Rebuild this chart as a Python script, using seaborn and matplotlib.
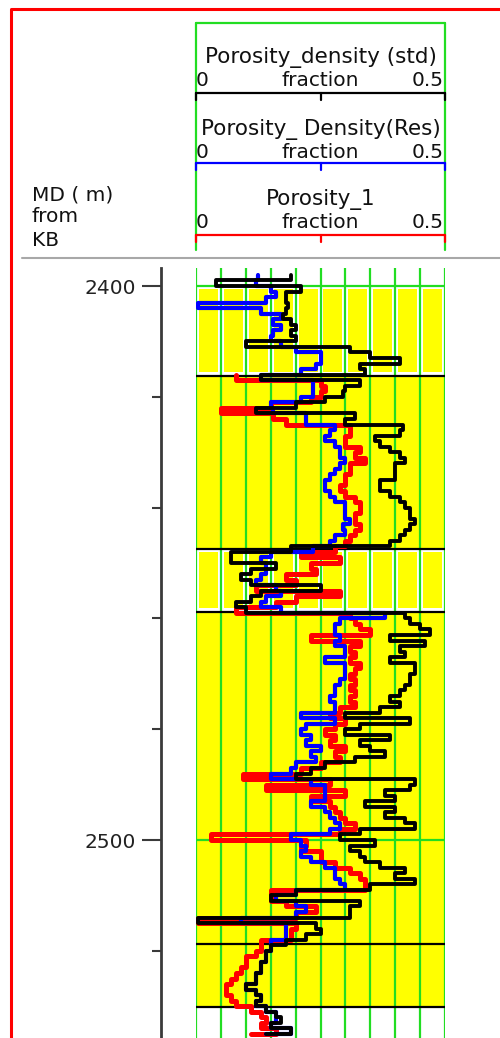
import numpy as np
import pandas as pd
import matplotlib
matplotlib.use("Agg")
import matplotlib.pyplot as plt
from matplotlib.lines import Line2D
import seaborn as sns

sns.set_theme(style="white")
plt.rcParams["font.family"] = ["DejaVu Sans"]

# ---------------------------------------------------------------- data
depth = np.arange(2398, 2536)  # measured depth, m (1 m samples)

phi_std = [
    0.19, 0.04, 0.21, 0.18, 0.18, 0.185, 0.18, 0.175, 0.19, 0.20,
    0.19, 0.20, 0.10, 0.31, 0.35, 0.41, 0.33, 0.34, 0.13, 0.33,
    0.30, 0.295, 0.26, 0.20, 0.12, 0.32, 0.30, 0.415, 0.41, 0.36,
    0.37, 0.39, 0.41, 0.42, 0.40, 0.40, 0.40, 0.37, 0.37, 0.39,
    0.41, 0.42, 0.43, 0.43, 0.44, 0.43, 0.42, 0.41, 0.39, 0.19,
    0.07, 0.07, 0.16, 0.11, 0.09, 0.11, 0.25, 0.13, 0.11, 0.08,
    0.10, 0.42, 0.43, 0.45, 0.47, 0.39, 0.46, 0.41, 0.42, 0.39,
    0.44, 0.44, 0.43, 0.43, 0.42, 0.41, 0.39, 0.41, 0.37, 0.30,
    0.43, 0.33, 0.30, 0.39, 0.33, 0.35, 0.38, 0.32, 0.26, 0.23,
    0.20, 0.44, 0.43, 0.38, 0.40, 0.34, 0.40, 0.38, 0.42, 0.44,
    0.33, 0.29, 0.36, 0.31, 0.33, 0.34, 0.37, 0.42, 0.40, 0.44,
    0.35, 0.20, 0.15, 0.33, 0.31, 0.31, 0.005, 0.24, 0.25, 0.22,
    0.18, 0.15, 0.14, 0.14, 0.13, 0.13, 0.12, 0.12, 0.10, 0.12,
    0.13, 0.12, 0.14, 0.16, 0.17, 0.15, 0.19, 0.14,
]

phi_res = [
    0.125, 0.12, 0.15, 0.16, 0.14, 0.005, 0.13, 0.17, 0.155, 0.17,
    0.155, 0.15, 0.17, 0.20, 0.25, 0.25, 0.24, 0.21, 0.13, 0.235,
    0.235, 0.235, 0.21, 0.15, 0.155, 0.22, 0.22, 0.28, 0.27, 0.26,
    0.28, 0.29, 0.29, 0.30, 0.29, 0.28, 0.27, 0.26, 0.26, 0.27,
    0.28, 0.30, 0.30, 0.30, 0.31, 0.295, 0.30, 0.28, 0.27, 0.235,
    0.15, 0.13, 0.14, 0.14, 0.13, 0.12, 0.16, 0.17, 0.14, 0.13,
    0.17, 0.38, 0.29, 0.28, 0.28, 0.29, 0.28, 0.30, 0.30, 0.26,
    0.30, 0.30, 0.30, 0.29, 0.28, 0.28, 0.27, 0.28, 0.28, 0.21,
    0.28, 0.22, 0.21, 0.23, 0.22, 0.25, 0.23, 0.24, 0.20, 0.19,
    0.15, 0.23, 0.26, 0.26, 0.26, 0.23, 0.26, 0.27, 0.28, 0.29,
    0.27, 0.19, 0.21, 0.22, 0.21, 0.23, 0.26, 0.28, 0.28, 0.29,
    0.30, 0.20, 0.16, 0.20, 0.22, 0.20, 0.09, 0.18, 0.18, 0.18,
    0.15, 0.15, 0.14, 0.14, 0.13, 0.13, 0.12, 0.12, 0.10, 0.12,
    0.13, 0.12, 0.14, 0.16, 0.16, 0.15, 0.19, 0.14,
]

phi_1 = [np.nan] * 18 + [
    0.08, 0.25, 0.26, 0.25, 0.23, 0.15, 0.05, 0.155, 0.18, 0.31,
    0.31, 0.30, 0.30, 0.33, 0.32, 0.34, 0.31, 0.31, 0.30, 0.30,
    0.29, 0.30, 0.32, 0.33, 0.33, 0.32, 0.32, 0.33, 0.32, 0.31,
    0.30, 0.28, 0.21, 0.29, 0.23, 0.24, 0.18, 0.20, 0.12, 0.29,
    0.20, 0.16, 0.08, 0.31, 0.32, 0.33, 0.35, 0.23, 0.33, 0.31,
    0.32, 0.31, 0.33, 0.32, 0.31, 0.32, 0.31, 0.32, 0.31, 0.32,
    0.29, 0.27, 0.30, 0.28, 0.26, 0.28, 0.27, 0.30, 0.28, 0.29,
    0.25, 0.21, 0.095, 0.27, 0.14, 0.30, 0.23, 0.27, 0.28, 0.29,
    0.30, 0.32, 0.29, 0.03, 0.22, 0.21, 0.25, 0.25, 0.28, 0.31,
    0.33, 0.34, 0.34, 0.15, 0.15, 0.18, 0.24, 0.20, 0.005, 0.20,
    0.19, 0.19, 0.13, 0.13, 0.12, 0.10, 0.10, 0.09, 0.08, 0.07,
    0.06, 0.06, 0.07, 0.08, 0.11, 0.13, 0.14, 0.13, 0.16, 0.11,
]

curve_names = ["Porosity_density (std)", "Porosity_ Density(Res)", "Porosity_1"]
curve_colors = ["black", "#0000ff", "#ff0000"]

# lithology zones (top, base, fill style)
zone_tops = [2400.0, 2416.2, 2447.5, 2458.8, 2518.8]
zone_bases = [2416.2, 2447.5, 2458.8, 2518.8, 2530.1]
zone_styles = ["striped", "solid", "striped", "solid", "solid"]

depth_major = [2400, 2500]
depth_minor = [2420, 2440, 2460, 2480, 2520]

scale_min, scale_max = 0.0, 0.5

# ---------------------------------------------------------------- layout
W, H = 500, 1038
fig = plt.figure(figsize=(W / 100, H / 100), dpi=100)
fig.patch.set_facecolor("white")

def fx(px):
    return px / W

def fy(py):
    return 1 - py / H

GREEN = "#22dd22"
YELLOW = "#ffff00"
TEXT = "#111111"
FS = 14.5

top_depth = 2400 - (286 - 268) / 5.54
bot_depth = 2400 + (H - 286) / 5.54

# ---------------------------------------------------------------- track
ax = fig.add_axes([fx(196), 0, fx(445) - fx(196), fy(268)])
ax.set_xlim(scale_min, scale_max)
ax.set_ylim(bot_depth, top_depth)
ax.set_facecolor("white")

ncols = 10
col_w = (scale_max - scale_min) / ncols
for top, base, style in zip(zone_tops, zone_bases, zone_styles):
    if style == "solid":
        ax.fill_betweenx([top, base], scale_min, scale_max, color=YELLOW, lw=0, zorder=0)
    else:
        for i in range(ncols):
            left = scale_min + i * col_w
            ax.fill_betweenx([top + 0.6, base - 0.6], left + 0.006, left + col_w - 0.006,
                             color=YELLOW, lw=0, zorder=0)

for xv in np.linspace(scale_min, scale_max, ncols + 1):
    ax.axvline(xv, color=GREEN, lw=1.6, zorder=1)
for d in depth_major:
    ax.axhline(d, color=GREEN, lw=1.6, zorder=1)
for b in zone_bases:
    ax.axhline(b, color="black", lw=1.6, zorder=2)

df = pd.DataFrame({"depth": depth, curve_names[0]: phi_std,
                   curve_names[1]: phi_res, curve_names[2]: phi_1})
long = df.melt(id_vars="depth", var_name="curve", value_name="phi").dropna()

for name, color, lw, z in [(curve_names[2], curve_colors[2], 3.6, 3),
                           (curve_names[1], curve_colors[1], 3.0, 4),
                           (curve_names[0], curve_colors[0], 2.8, 5)]:
    sub = long[long["curve"] == name]
    sns.lineplot(data=sub, x="phi", y="depth", orient="y", estimator=None,
                 sort=True, color=color, lw=lw, drawstyle="steps-pre",
                 legend=False, ax=ax, zorder=z)

ax.set_xlabel("")
ax.set_ylabel("")
ax.set_xticks([])
for s in ["top", "right", "bottom"]:
    ax.spines[s].set_visible(False)
ax.spines["left"].set_position(("outward", 25))
ax.spines["left"].set_color("#3a3a3a")
ax.spines["left"].set_linewidth(2)
ax.set_yticks(depth_major)
ax.set_yticklabels([str(d) for d in depth_major])
ax.set_yticks(depth_minor, minor=True)
ax.tick_params(axis="y", which="major", left=True, length=13.5, width=1.5,
               color="#3a3a3a", pad=5, labelsize=FS, labelcolor="#222222")
ax.tick_params(axis="y", which="minor", left=True, length=6.5, width=1.5,
               color="#3a3a3a")

# ---------------------------------------------------------------- header
axh = fig.add_axes([fx(196), fy(258), fx(445) - fx(196), fy(20) - fy(258)])
axh.set_xlim(scale_min, scale_max)
axh.set_ylim(258, 20)
axh.axis("off")

axh.plot([scale_min, scale_min], [23, 250], color=GREEN, lw=1.6, clip_on=False)
axh.plot([scale_max, scale_max], [23, 250], color=GREEN, lw=1.6, clip_on=False)
axh.plot([scale_min, scale_max], [23, 23], color=GREEN, lw=1.6, clip_on=False)

mid = (scale_min + scale_max) / 2
title_y = [58, 129, 200]
label_y = [81, 152, 222]
bar_y = [93, 163, 235]
for name, color, ty, ly, by in zip(curve_names, curve_colors, title_y, label_y, bar_y):
    axh.text(mid, ty, name, ha="center", va="center", fontsize=15.5, color=TEXT)
    axh.text(scale_min, ly, f"{scale_min:g}", ha="left", va="center", fontsize=FS, color=TEXT)
    axh.text(mid, ly, "fraction", ha="center", va="center", fontsize=FS, color=TEXT)
    axh.text(scale_max - 0.002, ly, f"{scale_max:g}", ha="right", va="center", fontsize=FS, color=TEXT)
    axh.plot([scale_min, scale_max], [by, by], color=color, lw=1.6, clip_on=False)
    for xv in [scale_min, mid, scale_max]:
        axh.plot([xv, xv], [by, by + 7], color=color, lw=1.6, clip_on=False)

for txt, py in [("MD ( m)", 195), ("from", 217), ("KB", 240)]:
    fig.text(fx(32), fy(py), txt, ha="left", va="center", fontsize=FS, color=TEXT)

fig.add_artist(Line2D([fx(22), 1.0], [fy(258), fy(258)], color="#a8a8a8", lw=1.5))
fig.add_artist(Line2D([fx(11), fx(11), 1.0], [0, fy(9), fy(9)], color="#ff0000", lw=2.2))

fig.savefig("out.png", dpi=100)
